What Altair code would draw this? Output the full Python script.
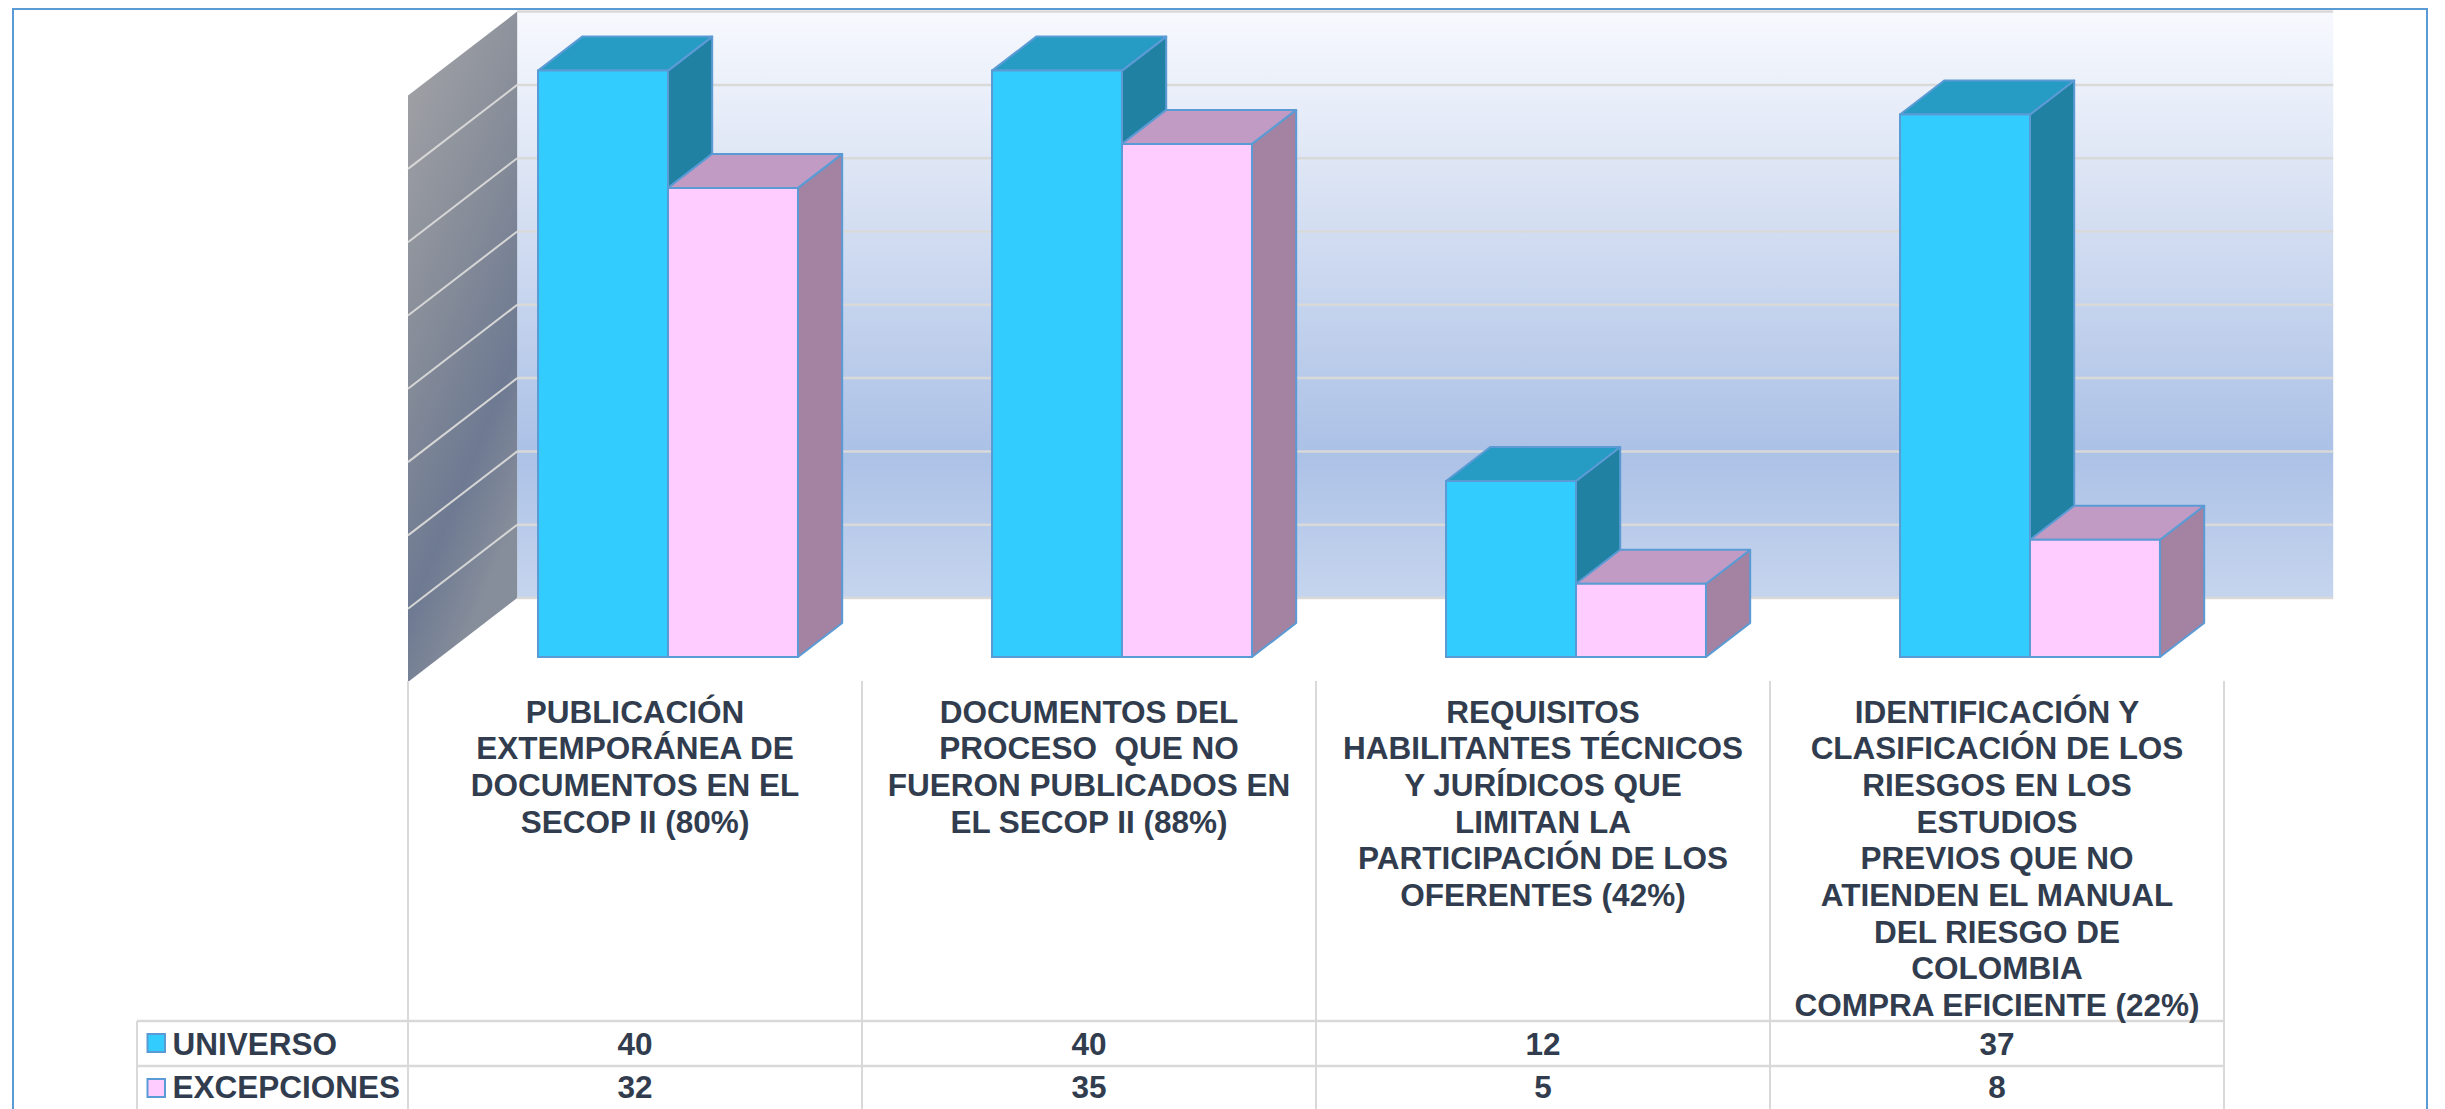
import altair as alt
import pandas as pd

# ---------------- data ----------------
categories = [
    "PUBLICACIÓN\nEXTEMPORÁNEA DE\nDOCUMENTOS EN EL\nSECOP II (80%)",
    "DOCUMENTOS DEL\nPROCESO \u00a0QUE NO\nFUERON PUBLICADOS EN\nEL SECOP II (88%)",
    "REQUISITOS\nHABILITANTES TÉCNICOS\nY JURÍDICOS QUE\nLIMITAN LA\nPARTICIPACIÓN DE LOS\nOFERENTES (42%)",
    "IDENTIFICACIÓN Y\nCLASIFICACIÓN DE LOS\nRIESGOS EN LOS\nESTUDIOS\nPREVIOS QUE NO\nATIENDEN EL MANUAL\nDEL RIESGO DE\nCOLOMBIA\nCOMPRA EFICIENTE (22%)",
]
series_names = ["UNIVERSO", "EXCEPCIONES"]
universo = [40, 40, 12, 37]
excepciones = [32, 35, 5, 8]
tick_values = [0, 5, 10, 15, 20, 25, 30, 35, 40]

# ---------------- style / geometry ----------------
PX_PER_V = 14.66
PX_PER_U = 454.0
SLANT = 1.3
DU = SLANT / PX_PER_U
DV = 1.0 / PX_PER_V
WALL_D = 84
BAR_D0, BAR_D1 = 25, 59
GAP_U = 0.2148
BAR_W = 0.2863

TEXT = "#313D4E"
EDGE = "#5B9BD5"
GRID = "#D9D9D9"
FONT = "Liberation Sans"
FS = 31.5

styles = {
    "UNIVERSO": {"front": "#33CCFF", "top": "#269BC4", "side": "#2081A3"},
    "EXCEPCIONES": {"front": "#FFCCFF", "top": "#C29BC4", "side": "#A382A2"},
}

xs = alt.Scale(domain=[0, 4], range=[400, 2216], nice=False, zero=False)
ys = alt.Scale(domain=[0, 40], range=[674, 87.6], nice=False, zero=False)


def X(f):
    return alt.X(f, type="quantitative", scale=xs, axis=None)


def Y(f):
    return alt.Y(f, type="quantitative", scale=ys, axis=None)


layers = []

# back wall
back = pd.DataFrame({"x": [WALL_D * DU], "x2": [4 + WALL_D * DU],
                     "y": [tick_values[0] + WALL_D * DV], "y2": [tick_values[-1] + WALL_D * DV]})
back_grad = alt.LinearGradient(
    gradient="linear", x1=0, y1=0, x2=0, y2=1,
    stops=[alt.GradientStop(color="#F7F9FE", offset=0),
           alt.GradientStop(color="#D5DFF2", offset=0.35),
           alt.GradientStop(color="#ABC1E6", offset=0.75),
           alt.GradientStop(color="#C6D5EE", offset=1)])
layers.append(alt.Chart(back).mark_rect(fill=back_grad).encode(
    x=X("x"), x2="x2", y=Y("y"), y2="y2"))

# left wall
left = pd.DataFrame({"x": [0, WALL_D * DU], "y": [0, WALL_D * DV],
                     "y2": [40, 40 + WALL_D * DV]})
left_grad = alt.LinearGradient(
    gradient="linear", x1=0, y1=0, x2=0.4, y2=1,
    stops=[alt.GradientStop(color="#A5A5A8", offset=0),
           alt.GradientStop(color="#878D99", offset=0.45),
           alt.GradientStop(color="#6E7A92", offset=0.78),
           alt.GradientStop(color="#878E9B", offset=1)])
layers.append(alt.Chart(left).mark_area(fill=left_grad).encode(
    x=X("x"), y=Y("y"), y2="y2"))

# gridlines
gback = pd.DataFrame({"x": [WALL_D * DU] * len(tick_values),
                      "x2": [4 + WALL_D * DU] * len(tick_values),
                      "y": [v + WALL_D * DV for v in tick_values]})
layers.append(alt.Chart(gback).mark_rule(color=GRID, strokeWidth=2.5).encode(
    x=X("x"), x2="x2", y=Y("y")))
gleft = pd.DataFrame({"x": [0] * len(tick_values), "x2": [WALL_D * DU] * len(tick_values),
                      "y": tick_values, "y2": [v + WALL_D * DV for v in tick_values]})
layers.append(alt.Chart(gleft[(gleft["y"] > 0) & (gleft["y"] < 40)]).mark_rule(
    color="#D6D6D6", strokeWidth=2).encode(x=X("x"), x2="x2", y=Y("y"), y2="y2"))

# table grid lines
cols = pd.DataFrame({"u": [0, 1, 2, 3, 4]})
layers.append(alt.Chart(cols).mark_rule(color=GRID, strokeWidth=2).encode(
    x=X("u"), y=alt.value(673), y2=alt.value(1101)))
hl = pd.DataFrame({"y": [1013, 1058]})
layers.append(alt.Chart(hl).mark_rule(color=GRID, strokeWidth=2.5).encode(
    x=alt.value(129), x2=alt.value(2216), y=alt.Y("y", type="quantitative",
                                                   scale=alt.Scale(domain=[0, 1101], range=[0, 1101]), axis=None)))
layers.append(alt.Chart(pd.DataFrame({"a": [0]})).mark_rule(color=GRID, strokeWidth=2).encode(
    x=alt.value(129), y=alt.value(1013), y2=alt.value(1101)))

# 3D bars
for j, (name, vals) in enumerate(zip(series_names, [universo, excepciones])):
    fr, tp, sd = [], [], []
    for i, v in enumerate(vals):
        u0 = i + GAP_U + j * BAR_W
        u1 = u0 + BAR_W
        fr.append({"cat": i, "x": u0 + BAR_D0 * DU, "x2": u1 + BAR_D0 * DU,
                   "y": BAR_D0 * DV, "y2": v + BAR_D0 * DV})
        vf, vb = v + BAR_D0 * DV, v + BAR_D1 * DV
        tp += [
            {"cat": i, "x": u0 + BAR_D0 * DU, "y": vf, "y2": vf},
            {"cat": i, "x": u0 + BAR_D1 * DU, "y": vf, "y2": vb},
            {"cat": i, "x": u1 + BAR_D0 * DU, "y": vf, "y2": vb},
            {"cat": i, "x": u1 + BAR_D1 * DU, "y": vb, "y2": vb},
        ]
        sd += [
            {"cat": i, "x": u1 + BAR_D0 * DU, "y": BAR_D0 * DV, "y2": vf},
            {"cat": i, "x": u1 + BAR_D1 * DU, "y": BAR_D1 * DV, "y2": vb},
        ]
    st = styles[name]
    layers.append(alt.Chart(pd.DataFrame(sd)).mark_area(
        fill=st["side"], stroke=EDGE, strokeWidth=2, strokeJoin="round").encode(
        x=X("x"), y=Y("y"), y2="y2", detail="cat:N"))
    layers.append(alt.Chart(pd.DataFrame(tp)).mark_area(
        fill=st["top"], stroke=EDGE, strokeWidth=2, strokeJoin="round").encode(
        x=X("x"), y=Y("y"), y2="y2", detail="cat:N"))
    layers.append(alt.Chart(pd.DataFrame(fr)).mark_rect(
        fill=st["front"], stroke=EDGE, strokeWidth=2).encode(
        x=X("x"), x2="x2", y=Y("y"), y2="y2"))

# category labels
lab = pd.DataFrame({"xc": [i + 0.5 for i in range(4)], "label": categories})
layers.append(alt.Chart(lab).mark_text(
    font=FONT, fontSize=FS, fontWeight="bold", color=TEXT, align="center",
    baseline="alphabetic", lineBreak="\n", lineHeight=36.67).encode(
    x=X("xc"), y=alt.value(714.6), text="label:N"))

# table values and legend
row_base = {"UNIVERSO": 1047.3, "EXCEPCIONES": 1090.3}
sw_top = {"UNIVERSO": 1026, "EXCEPCIONES": 1071}
for name, vals in zip(series_names, [universo, excepciones]):
    dv = pd.DataFrame({"xc": [i + 0.5 for i in range(4)], "val": vals})
    layers.append(alt.Chart(dv).mark_text(
        font=FONT, fontSize=FS, fontWeight="bold", color=TEXT, align="center",
        baseline="alphabetic").encode(x=X("xc"), y=alt.value(row_base[name]), text="val:Q"))
    dl = pd.DataFrame({"name": [name]})
    layers.append(alt.Chart(dl).mark_rect(
        fill=styles[name]["front"], stroke=EDGE, strokeWidth=2).encode(
        x=alt.value(139.5), x2=alt.value(157), y=alt.value(sw_top[name]), y2=alt.value(sw_top[name] + 18)))
    layers.append(alt.Chart(dl).mark_text(
        font=FONT, fontSize=FS, fontWeight="bold", color=TEXT, align="left",
        baseline="alphabetic").encode(x=alt.value(164.5), y=alt.value(row_base[name]), text="name:N"))

# outer border
layers.append(alt.Chart(pd.DataFrame({"a": [0]})).mark_rect(
    fill="transparent", stroke=EDGE, strokeWidth=2).encode(
    x=alt.value(5), x2=alt.value(2419), y=alt.value(1), y2=alt.value(1120)))

chart = alt.layer(*layers).resolve_scale(y="independent").properties(
    width=2429, height=1101, autosize=alt.AutoSizeParams(type="none"), padding=0
).configure_view(stroke=None)

chart.save("out.html", embed_options={"renderer": "svg", "actions": False})
